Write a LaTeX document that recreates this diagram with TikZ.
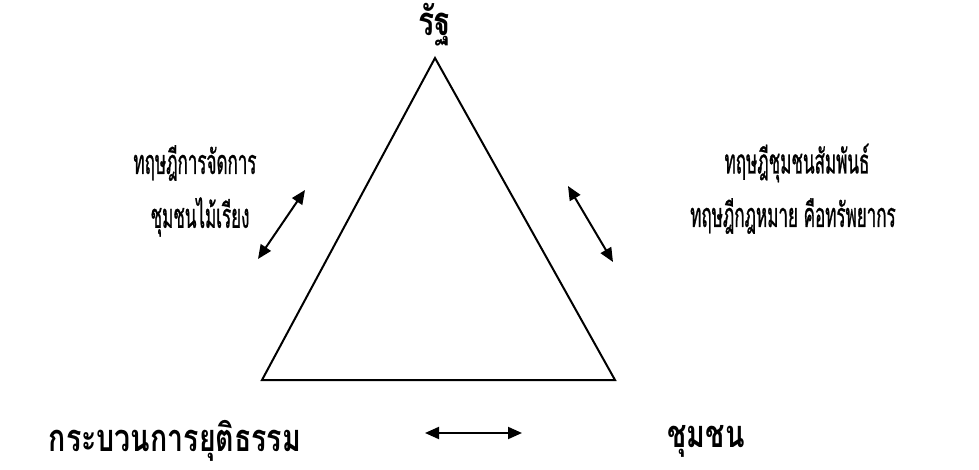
\documentclass[tikz,border=0pt]{standalone}
\usepackage{fontspec}
\usetikzlibrary{arrows.meta}
\newfontfamily\thaib[Script=Thai,FakeStretch=0.75]{Loma}
\newfontfamily\thaicond[Script=Thai,FakeStretch=0.5,FakeBold=0.8]{Loma}
\begin{document}
\begin{tikzpicture}[x=1pt,y=-1pt,
  edge/.style={line width=2pt,line join=miter},
  dbl/.style={line width=2pt,{Triangle[length=14pt,width=12pt]}-{Triangle[length=14pt,width=12pt]}},
  lbl/.style={inner sep=0pt,font=\thaicond\fontsize{34}{38}\selectfont},
  blbl/.style={inner sep=0pt,font=\thaib\bfseries\fontsize{38}{42}\selectfont}]
\useasboundingbox (0,0) rectangle (979,470);
\fill[white] (0,0) rectangle (979,470);
\coordinate (A) at (435,58);
\coordinate (B) at (262,380);
\coordinate (C) at (615,380);
\draw[edge] (A) -- (B) -- (C) -- cycle;
\node[blbl,font=\thaib\bfseries\fontsize{40}{44}\selectfont] (state) at (435,25) {รัฐ};
\node[lbl] (l1) at (195,163) {ทฤษฎีการจัดการ};
\node[lbl] (l2) at (200,217) {ชุมชนไม้เรียง};
\node[lbl] (r1) at (797,163) {ทฤษฎีชุมชนสัมพันธ์};
\node[lbl] (r2) at (793,216) {ทฤษฎีกฎหมาย คือทรัพยากร};
\node[blbl] (justice) at (175,441) {กระบวนการยุติธรรม};
\node[blbl] (comm) at (706,441) {ชุมชน};
\coordinate (la1) at (305,190);
\coordinate (la2) at (258,259);
\coordinate (ra1) at (568,186);
\coordinate (ra2) at (613,262);
\coordinate (ba1) at (425,433);
\coordinate (ba2) at (522,433);
\draw[dbl] (la1) -- (la2);
\draw[dbl] (ra1) -- (ra2);
\draw[dbl] (ba1) -- (ba2);
\end{tikzpicture}
\end{document}
